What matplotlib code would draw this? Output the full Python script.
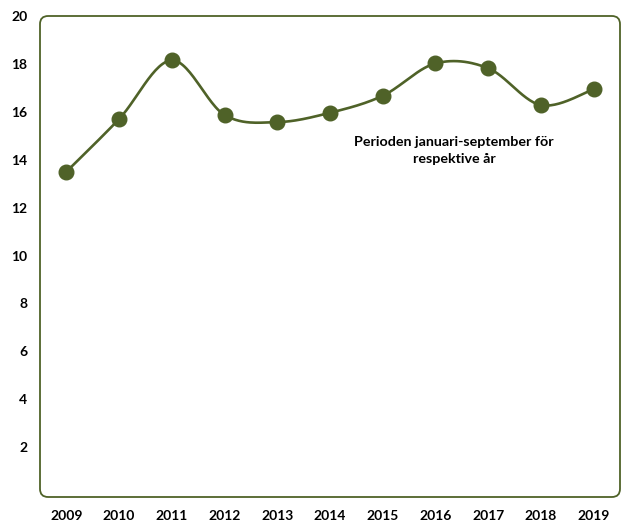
import matplotlib
matplotlib.use("Agg")
import matplotlib.pyplot as plt
import numpy as np
from matplotlib.patches import FancyBboxPatch

YEARS = ["2009", "2010", "2011", "2012", "2013", "2014", "2015", "2016", "2017", "2018", "2019"]
VALUES = [13.5, 15.7, 18.15, 15.87, 15.57, 15.96, 16.67, 18.02, 17.82, 16.28, 16.94]
Y_TICKS = [2, 4, 6, 8, 10, 12, 14, 16, 18, 20]
NOTE = "Perioden januari-september för\nrespektive år"

OLIVE = "#4f6228"
plt.rcParams["font.family"] = ["Lato", "DejaVu Sans"]


def smooth_curve(x, y, steps=30):
    # Catmull-Rom style smoothing like Excel's "smoothed line".
    x = np.asarray(x, dtype=float)
    y = np.asarray(y, dtype=float)
    px = np.concatenate([[x[0]], x, [x[-1]]])
    py = np.concatenate([[y[0]], y, [y[-1]]])
    xs, ys = [], []
    t = np.linspace(0, 1, steps)
    for i in range(1, len(px) - 2):
        p0 = np.array([px[i], py[i]])
        p3 = np.array([px[i + 1], py[i + 1]])
        c1 = p0 + (np.array([px[i + 1], py[i + 1]]) - np.array([px[i - 1], py[i - 1]])) / 6
        c2 = p3 - (np.array([px[i + 2], py[i + 2]]) - np.array([px[i], py[i]])) / 6
        b = ((1 - t) ** 3)[:, None] * p0 + (3 * (1 - t) ** 2 * t)[:, None] * c1 \
            + (3 * (1 - t) * t ** 2)[:, None] * c2 + (t ** 3)[:, None] * p3
        xs.extend(b[:, 0])
        ys.extend(b[:, 1])
    return np.array(xs), np.array(ys)


fig = plt.figure(figsize=(6.22, 5.24), dpi=100)
ax = fig.add_axes([40 / 622, 27 / 524, 580 / 622, 481 / 524])

pos = np.arange(len(YEARS))
sx, sy = smooth_curve(pos, VALUES)
ax.plot(sx, sy, color=OLIVE, lw=1.9, zorder=3)
ax.plot(pos, VALUES, ls="none", marker="o", ms=10.5, color=OLIVE, zorder=4)

ax.set_xlim(-0.5, 10.5)
ax.set_ylim(-0.08, 20)
ax.set_xticks(pos)
ax.set_xticklabels(YEARS)
ax.set_yticks(Y_TICKS)
ax.set_yticklabels([str(v) for v in Y_TICKS])
ax.tick_params(length=0, labelsize=10)
ax.tick_params(axis="x", pad=9.5)
ax.tick_params(axis="y", pad=9)
for lbl in ax.get_xticklabels() + ax.get_yticklabels():
    lbl.set_fontweight("bold")
for sp in ax.spines.values():
    sp.set_visible(False)

frame = FancyBboxPatch((0, 0), 1, 1, boxstyle="round,pad=0,rounding_size=0.014",
                       mutation_aspect=580 / 481, transform=ax.transAxes,
                       facecolor="none", edgecolor=OLIVE, lw=1.3, clip_on=False, zorder=2)
ax.add_patch(frame)

ax.text(7.35, 14.38, NOTE, ha="center", va="center", fontsize=10.3,
        fontweight="bold", linespacing=1.45)

fig.savefig("out.png", dpi=100)
